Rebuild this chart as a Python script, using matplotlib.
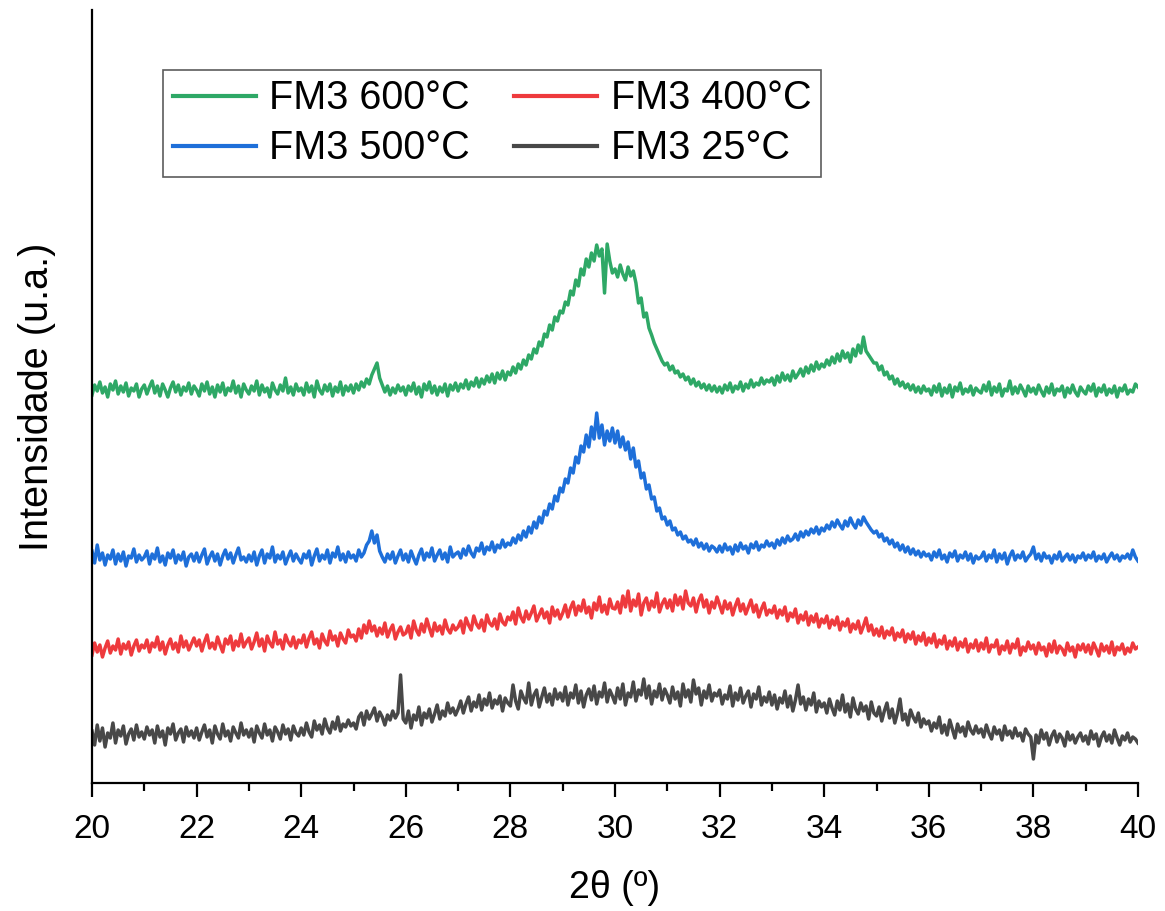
import numpy as np
import matplotlib
matplotlib.use("Agg")
import matplotlib.pyplot as plt
from matplotlib.ticker import MultipleLocator

# 2-theta grid (degrees), 0.05 deg steps from 20 to 40
two_theta = np.round(np.arange(400 + 1) * 0.05 + 20.0, 2)

fm3_600 = [
    388, 398, 392, 401, 390, 396, 386, 399, 393, 402, 389, 397, 391, 400, 387, 395, 392, 399, 386, 394,
    398, 389, 396, 402, 390, 397, 387, 399, 393, 386, 395, 401, 391, 398, 388, 396, 392, 400, 389, 397,
    393, 387, 399, 392, 401, 389, 396, 386, 398, 391, 400, 388, 395, 392, 402, 390, 397, 386, 399, 393,
    389, 397, 392, 402, 388, 398, 391, 395, 386, 400, 393, 389, 398, 392, 405, 390, 396, 388, 399, 392,
    395, 388, 400, 391, 397, 386, 402, 393, 389, 398, 392, 399, 387, 396, 391, 401, 388, 397, 392, 398,
    390, 399, 393, 401, 396, 404, 399, 408, 414, 420, 405, 398, 391, 397, 388, 395, 390, 398, 392, 396,
    388, 397, 392, 400, 389, 396, 386, 399, 393, 401, 390, 397, 388, 396, 391, 399, 387, 398, 393, 400,
    392, 399, 395, 403, 394, 401, 397, 405, 396, 404, 399, 407, 401, 409, 400, 410, 404, 412, 403, 411,
    408, 416, 410, 419, 414, 423, 418, 428, 424, 434, 430, 441, 437, 449, 446, 458, 453, 466, 462, 472,
    470, 481, 478, 492, 488, 503, 497, 514, 508, 524, 516, 530, 522, 538, 527, 534, 490, 539, 522, 510,
    514, 506, 518, 509, 503, 516, 507, 512, 500, 480, 485, 466, 470, 455, 448, 440, 434, 428, 422, 418,
    420, 413, 417, 410, 412, 406, 409, 403, 406, 399, 404, 397, 401, 395, 399, 393, 398, 392, 397, 391,
    396, 390, 398, 393, 400, 391, 397, 394, 401, 392, 399, 395, 403, 396, 400, 398, 405, 399, 403, 401,
    405, 398, 407, 401, 410, 403, 408, 402, 412, 405, 409, 414, 407, 416, 410, 418, 412, 421, 414, 419,
    416, 423, 418, 426, 420, 429, 422, 432, 425, 430, 421, 434, 427, 438, 430, 446, 432, 428, 424, 420,
    420, 413, 417, 408, 411, 404, 407, 399, 404, 397, 401, 395, 399, 393, 398, 391, 396, 390, 397, 392,
    394, 388, 397, 391, 399, 387, 395, 390, 398, 386, 396, 392, 400, 389, 394, 391, 397, 388, 395, 392,
    390, 398, 392, 401, 388, 396, 391, 399, 387, 394, 392, 402, 389, 396, 390, 398, 393, 387, 397, 391,
    395, 389, 398, 392, 387, 396, 390, 399, 388, 394, 392, 397, 386, 395, 390, 398, 391, 387, 396, 392,
    389, 397, 392, 399, 387, 395, 391, 398, 388, 394, 390, 397, 386, 395, 392, 398, 389, 393, 391, 399,
    396,
]

fm3_500 = [
    232, 220, 238, 223, 230, 218, 228, 224, 233, 219, 229, 222, 231, 217, 227, 225, 234, 221, 228, 223,
    226, 232, 219, 229, 224, 235, 221, 227, 218, 230, 225, 233, 220, 228, 223, 231, 217, 226, 229, 222,
    230, 221, 228, 234, 219, 226, 231, 222, 229, 218, 227, 233, 224, 230, 220, 228, 235, 223, 226, 221,
    228, 222, 231, 218, 227, 233, 220, 229, 225, 236, 221, 228, 224, 231, 219, 226, 232, 222, 229, 224,
    220, 229, 225, 232, 218, 227, 234, 222, 228, 224, 233, 220, 230, 226, 236, 223, 229, 221, 231, 225,
    228, 222, 233, 226, 230, 238, 242, 252, 240, 248, 232, 226, 221, 229, 224, 231, 220, 227, 233, 223,
    229, 221, 232, 225, 219, 228, 234, 223, 230, 226, 235, 222, 228, 233, 224, 230, 221, 236, 226, 229,
    231, 225, 234, 228, 237, 230, 226, 235, 232, 240, 229, 236, 233, 241, 231, 238, 235, 243, 236, 240,
    238, 245, 240, 248, 243, 252, 246, 256, 250, 261, 255, 266, 260, 272, 268, 279, 274, 287, 282, 295,
    291, 304, 300, 315, 310, 326, 320, 337, 331, 348, 336, 356, 344, 370, 345, 358, 338, 352, 342, 355,
    340, 352, 336, 346, 333, 341, 324, 335, 316, 322, 305, 310, 294, 298, 284, 286, 272, 275, 264, 266,
    258, 262, 253, 255, 248, 251, 244, 247, 241, 243, 238, 244, 236, 240, 234, 239, 232, 237, 235, 231,
    237, 231, 239, 233, 236, 229, 238, 232, 240, 234, 237, 230, 239, 235, 241, 233, 238, 236, 242, 237,
    240, 235, 243, 238, 245, 240, 247, 242, 244, 249, 243, 251, 246, 252, 248, 254, 250, 256, 249, 255,
    252, 258, 254, 261, 256, 263, 258, 254, 262, 257, 265, 259, 255, 263, 258, 266, 261, 257, 253, 250,
    252, 246, 249, 242, 245, 239, 243, 236, 240, 233, 238, 231, 236, 229, 234, 228, 232, 226, 231, 227,
    229, 223, 231, 226, 233, 224, 228, 221, 230, 226, 232, 222, 228, 225, 231, 223, 229, 220, 227, 224,
    226, 231, 222, 228, 225, 233, 221, 229, 224, 230, 219, 227, 232, 223, 228, 225, 231, 222, 226, 229,
    236, 224, 229, 222, 230, 225, 227, 220, 228, 224, 231, 222, 226, 229, 223, 228, 221, 227, 225, 230,
    223, 228, 225, 231, 222, 227, 224, 229, 221, 226, 230, 224, 228, 222, 227, 225, 229, 224, 233, 226,
    222,
]

fm3_400 = [
    128, 140, 131, 138, 126, 135, 142, 130, 137, 133, 144, 129, 139, 134, 141, 128, 137, 143, 132, 138,
    135, 143, 131, 140, 136, 146, 133, 141, 129, 138, 144, 134, 140, 131, 147, 136, 142, 133, 139, 145,
    137, 143, 132, 141, 148, 135, 140, 134, 146, 138, 131, 144, 139, 147, 133, 142, 137, 149, 136, 141,
    145, 134, 141, 150, 137, 144, 132, 147, 140, 136, 151, 139, 143, 134, 148, 141, 137, 146, 135, 143,
    140, 148, 136, 145, 151, 139, 144, 135, 149, 142, 138, 152, 143, 147, 137, 150, 144, 140, 153, 146,
    148, 142, 154, 145, 158, 150, 162, 152, 157, 147, 155, 149, 160, 146, 153, 158, 144, 151, 156, 148,
    150, 157, 145, 162, 153, 148, 159, 151, 164, 155, 147, 160, 152, 157, 149, 163, 154, 150, 158, 153,
    156, 162, 150, 165, 158, 153, 167, 159, 155, 163, 152, 168, 160, 157, 164, 154, 169, 161, 158, 166,
    163, 171, 159, 175, 166, 161, 172, 164, 170, 177, 162, 168, 174, 165, 171, 160, 176, 167, 173, 164,
    170, 178, 166, 175, 181, 168, 177, 172, 183, 170, 176, 165, 180, 173, 186, 171, 178, 169, 184, 175,
    174, 181, 170, 187, 176, 192, 172, 183, 177, 189, 168, 180, 185, 173, 182, 176, 190, 171, 179, 184,
    175, 183, 172, 188, 178, 186, 174, 192, 180, 177, 185, 171, 182, 188, 176, 183, 170, 181, 175, 186,
    178, 170, 182, 174, 180, 168, 177, 184, 172, 179, 169, 176, 183, 171, 178, 166, 174, 180, 168, 173,
    170, 177, 165, 173, 168, 176, 162, 170, 166, 174, 160, 168, 163, 171, 158, 167, 161, 169, 156, 164,
    160, 167, 155, 163, 158, 166, 153, 161, 157, 164, 151, 159, 154, 162, 150, 157, 165, 152, 158, 148,
    154, 147, 156, 145, 152, 148, 155, 143, 150, 146, 153, 141, 149, 144, 151, 139, 147, 142, 150, 138,
    145, 140, 149, 136, 143, 139, 147, 134, 142, 137, 145, 133, 141, 136, 144, 131, 139, 135, 143, 132,
    140, 134, 145, 131, 138, 136, 143, 129, 137, 133, 142, 130, 139, 135, 144, 128, 136, 132, 141, 134,
    138, 129, 140, 133, 136, 127, 139, 131, 142, 130, 137, 134, 128, 140, 132, 136, 126, 138, 133, 139,
    131, 138, 129, 140, 134, 127, 139, 132, 137, 130, 141, 128, 136, 133, 139, 129, 135, 131, 140, 134,
    136,
]

fm3_25 = [
    52, 38, 58, 42, 55, 36, 50, 45, 60, 40, 53, 47, 57, 39, 49, 54, 43, 58, 46, 51,
    44, 56, 48, 53, 40, 57, 46, 52, 38, 55, 49, 59, 43, 50, 54, 41, 56, 47, 52, 45,
    55, 43, 51, 58, 46, 53, 40, 57, 49, 44, 59, 47, 52, 42, 56, 50, 45, 60, 48, 53,
    46, 54, 41, 57, 50, 45, 59, 48, 53, 42, 56, 51, 44, 58, 49, 54, 43, 57, 50, 47,
    55, 48, 60, 51, 46, 62, 53, 58, 49, 64, 55, 50, 61, 54, 66, 52, 59, 56, 63, 57,
    60, 54, 66, 70, 58, 72, 64, 69, 75, 62, 71, 66, 58, 68, 63, 72, 65, 70, 108, 64,
    60, 72, 55, 68, 63, 76, 58, 70, 65, 74, 61, 69, 78, 64, 72, 67, 80, 70, 75, 68,
    74, 82, 70, 79, 86, 72, 81, 76, 88, 73, 84, 78, 90, 75, 83, 79, 87, 72, 85, 80,
    77, 98, 82, 74, 92, 85, 80, 100, 78, 88, 93, 76, 86, 95, 81, 89, 78, 94, 84, 90,
    82, 96, 78, 90, 85, 98, 80, 92, 76, 88, 94, 83, 97, 79, 91, 86, 100, 81, 93, 87,
    80, 95, 84, 99, 78, 90, 86, 101, 82, 93, 88, 104, 85, 97, 79, 92, 86, 99, 83, 94,
    88, 80, 96, 84, 91, 77, 99, 86, 93, 81, 103, 89, 95, 78, 92, 85, 98, 82, 90, 87,
    93, 79, 88, 84, 97, 77, 90, 83, 95, 80, 87, 92, 76, 89, 84, 96, 78, 86, 81, 91,
    78, 88, 74, 85, 80, 92, 76, 87, 72, 83, 98, 79, 86, 73, 84, 78, 90, 71, 82, 76,
    80, 70, 84, 75, 68, 82, 73, 88, 71, 79, 66, 85, 74, 69, 80, 72, 77, 64, 81, 70,
    67, 76, 62, 72, 80, 65, 74, 60, 70, 84, 63, 69, 58, 73, 66, 61, 70, 56, 64, 59,
    62, 52, 60, 55, 66, 50, 58, 48, 63, 54, 45, 59, 51, 56, 47, 61, 53, 49, 57, 50,
    54, 46, 58, 50, 44, 56, 49, 53, 43, 57, 48, 52, 45, 55, 47, 50, 42, 54, 49, 46,
    24, 48, 40, 53, 44, 50, 38, 47, 52, 41, 49, 45, 37, 51, 43, 48, 40, 46, 50, 42,
    47, 39, 52, 44, 49, 37, 46, 51, 42, 48, 40, 53, 45, 38, 47, 43, 50, 41, 46, 44,
    40,
]

series_labels = ["FM3 600°C", "FM3 500°C", "FM3 400°C", "FM3 25°C"]
series_colors = ["#2EA866", "#1E6FD9", "#EE3A3D", "#484848"]
x_ticks = [20, 22, 24, 26, 28, 30, 32, 34, 36, 38, 40]

plt.rcParams["font.family"] = ["Liberation Sans", "DejaVu Sans"]

W, H = 1165, 911
fig = plt.figure(figsize=(W / 100, H / 100), dpi=100)
ax = fig.add_axes([92 / W, 1 - 783 / H, (1138 - 92) / W, (783 - 10) / H])

for ys, lab, col in zip([fm3_600, fm3_500, fm3_400, fm3_25], series_labels, series_colors):
    ax.plot(two_theta, ys, color=col, lw=2.5, label=lab)

ax.set_xlim(20, 40)
ax.set_ylim(0, 773)
ax.set_xticks(x_ticks)
ax.xaxis.set_minor_locator(MultipleLocator(1))
ax.set_yticks([])
ax.tick_params(axis="x", which="major", direction="out", length=10, width=1.6, pad=12, labelsize=24)
ax.tick_params(axis="x", which="minor", direction="out", length=5.5, width=1.6)

for s in ["top", "right"]:
    ax.spines[s].set_visible(False)
for s in ["left", "bottom"]:
    ax.spines[s].set_linewidth(1.6)
    ax.spines[s].set_color("black")

ax.set_xlabel("2θ (º)", fontsize=27, labelpad=18)
ax.set_ylabel("Intensidade (u.a.)", fontsize=28.5, labelpad=26)

leg = ax.legend(ncol=2, loc="upper left", bbox_to_anchor=((163 - 92) / (1138 - 92), (783 - 70) / 773),
                fontsize=28.5, frameon=True, fancybox=False, edgecolor="#333333",
                handlelength=2.1, handletextpad=0.35, columnspacing=1.1,
                labelspacing=0.3, borderpad=0.24, borderaxespad=0)
leg.get_frame().set_linewidth(1.2)
for lh in leg.get_lines():
    lh.set_linewidth(3)

fig.savefig("out.png", dpi=100)
